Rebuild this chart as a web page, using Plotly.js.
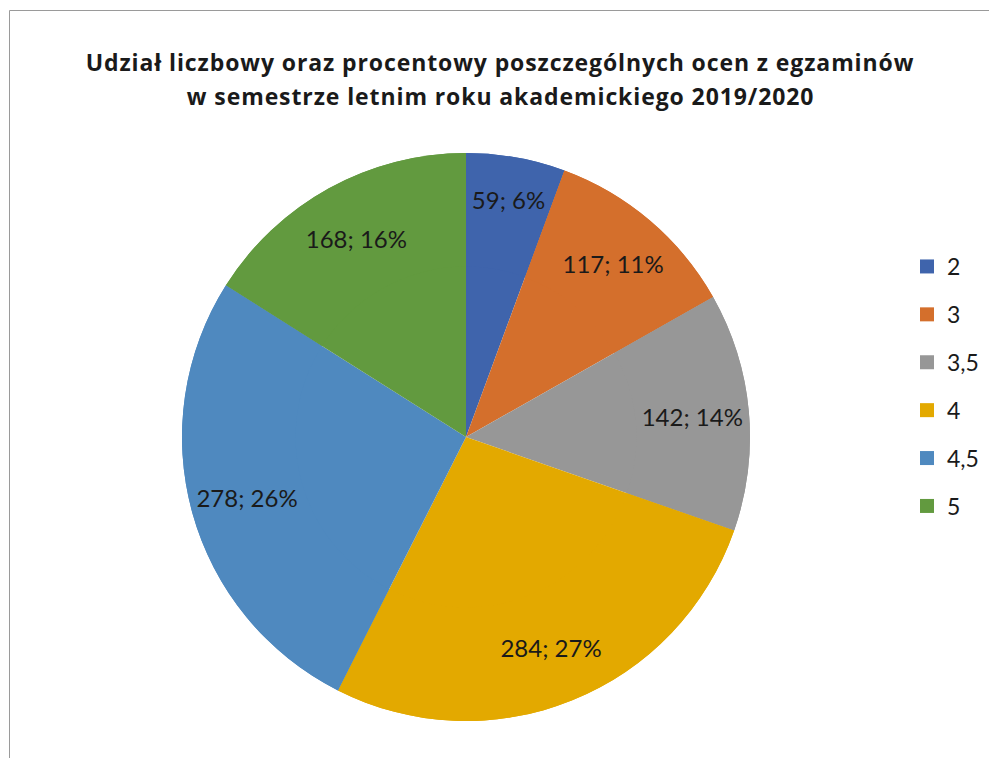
<!DOCTYPE html>
<html>
<head>
<meta charset="utf-8">
<script src="https://cdn.plot.ly/plotly-3.0.1.min.js"></script>
<style>
html,body{margin:0;padding:0;background:#fff;}
#chart{width:989px;height:758px;}
#chart .annotation-text{letter-spacing:0.9px;}
</style>
</head>
<body>
<div id="chart"></div>
<script>
const grades = ['2', '3', '3,5', '4', '4,5', '5'];
const counts = [59, 117, 142, 284, 278, 168];
const pctLabels = ['6%', '11%', '14%', '27%', '26%', '16%'];
const colors = ['#3F64AC', '#D46F2C', '#979797', '#E3A900', '#4F89BF', '#629A3F'];
const titleLines = ['Udział liczbowy oraz procentowy poszczególnych ocen z egzaminów', 'w semestrze letnim roku akademickiego 2019/2020'];

const W = 989, H = 758;
const cx = 466, cy = 437, R = 284;
const dom = {x: [(cx - R) / W, (cx + R) / W], y: [(H - cy - R) / H, (H - cy + R) / H]};

const basePie = {
  type: 'pie',
  labels: grades,
  values: counts,
  textinfo: 'none',
  sort: false,
  direction: 'clockwise',
  rotation: 0,
  marker: {colors: colors, line: {color: '#ffffff', width: 0}},
  hoverinfo: 'label+value+percent',
  showlegend: false,
  domain: dom
};

const ringPie = {
  type: 'pie',
  labels: grades,
  values: counts,
  text: pctLabels,
  texttemplate: '%{value}; %{text}',
  textposition: 'inside',
  insidetextorientation: 'horizontal',
  insidetextfont: {family: 'Lato, sans-serif', size: 24, color: '#1a1a1a'},
  hole: 0.6,
  sort: false,
  direction: 'clockwise',
  rotation: 0,
  marker: {colors: colors, line: {color: '#ffffff', width: 0}},
  hoverinfo: 'label+value+percent',
  showlegend: false,
  domain: dom
};

const legendTraces = grades.map((g, i) => ({
  type: 'scatter',
  mode: 'markers',
  x: [null], y: [null],
  name: g,
  legendgroup: 'g' + i,
  marker: {symbol: 'square', size: 14, color: colors[i]},
  showlegend: true,
  hoverinfo: 'skip'
}));

const titleY = [62, 96];
const layout = {
  width: W, height: H,
  margin: {l: 0, r: 0, t: 0, b: 0},
  paper_bgcolor: '#ffffff',
  plot_bgcolor: '#ffffff',
  xaxis: {visible: false},
  yaxis: {visible: false},
  showlegend: true,
  legend: {
    x: 907 / W, y: 1 - 245 / H, xanchor: 'left', yanchor: 'top',
    font: {family: 'Lato, sans-serif', size: 23, color: '#1a1a1a'},
    itemwidth: 30,
    tracegroupgap: 15,
    bgcolor: 'rgba(0,0,0,0)'
  },
  annotations: titleLines.map((t, i) => ({
    text: '<b>' + t + '</b>',
    xref: 'paper', yref: 'paper',
    x: 500 / W, y: 1 - titleY[i] / H, xanchor: 'center', yanchor: 'middle',
    showarrow: false,
    align: 'center',
    font: {family: 'Open Sans, sans-serif', size: 23, color: '#1a1a1a'}
  })),
  shapes: [
    {type: 'line', xref: 'paper', yref: 'paper', x0: 9.5 / W, x1: 1, y0: 1 - 10.5 / H, y1: 1 - 10.5 / H, line: {color: '#9a9a9a', width: 1}},
    {type: 'line', xref: 'paper', yref: 'paper', x0: 9.5 / W, x1: 9.5 / W, y0: 1 - 10.5 / H, y1: 0, line: {color: '#9a9a9a', width: 1}}
  ]
};

Plotly.newPlot('chart', [basePie, ringPie].concat(legendTraces), layout, {displayModeBar: false, responsive: false});
</script>
</body>
</html>
